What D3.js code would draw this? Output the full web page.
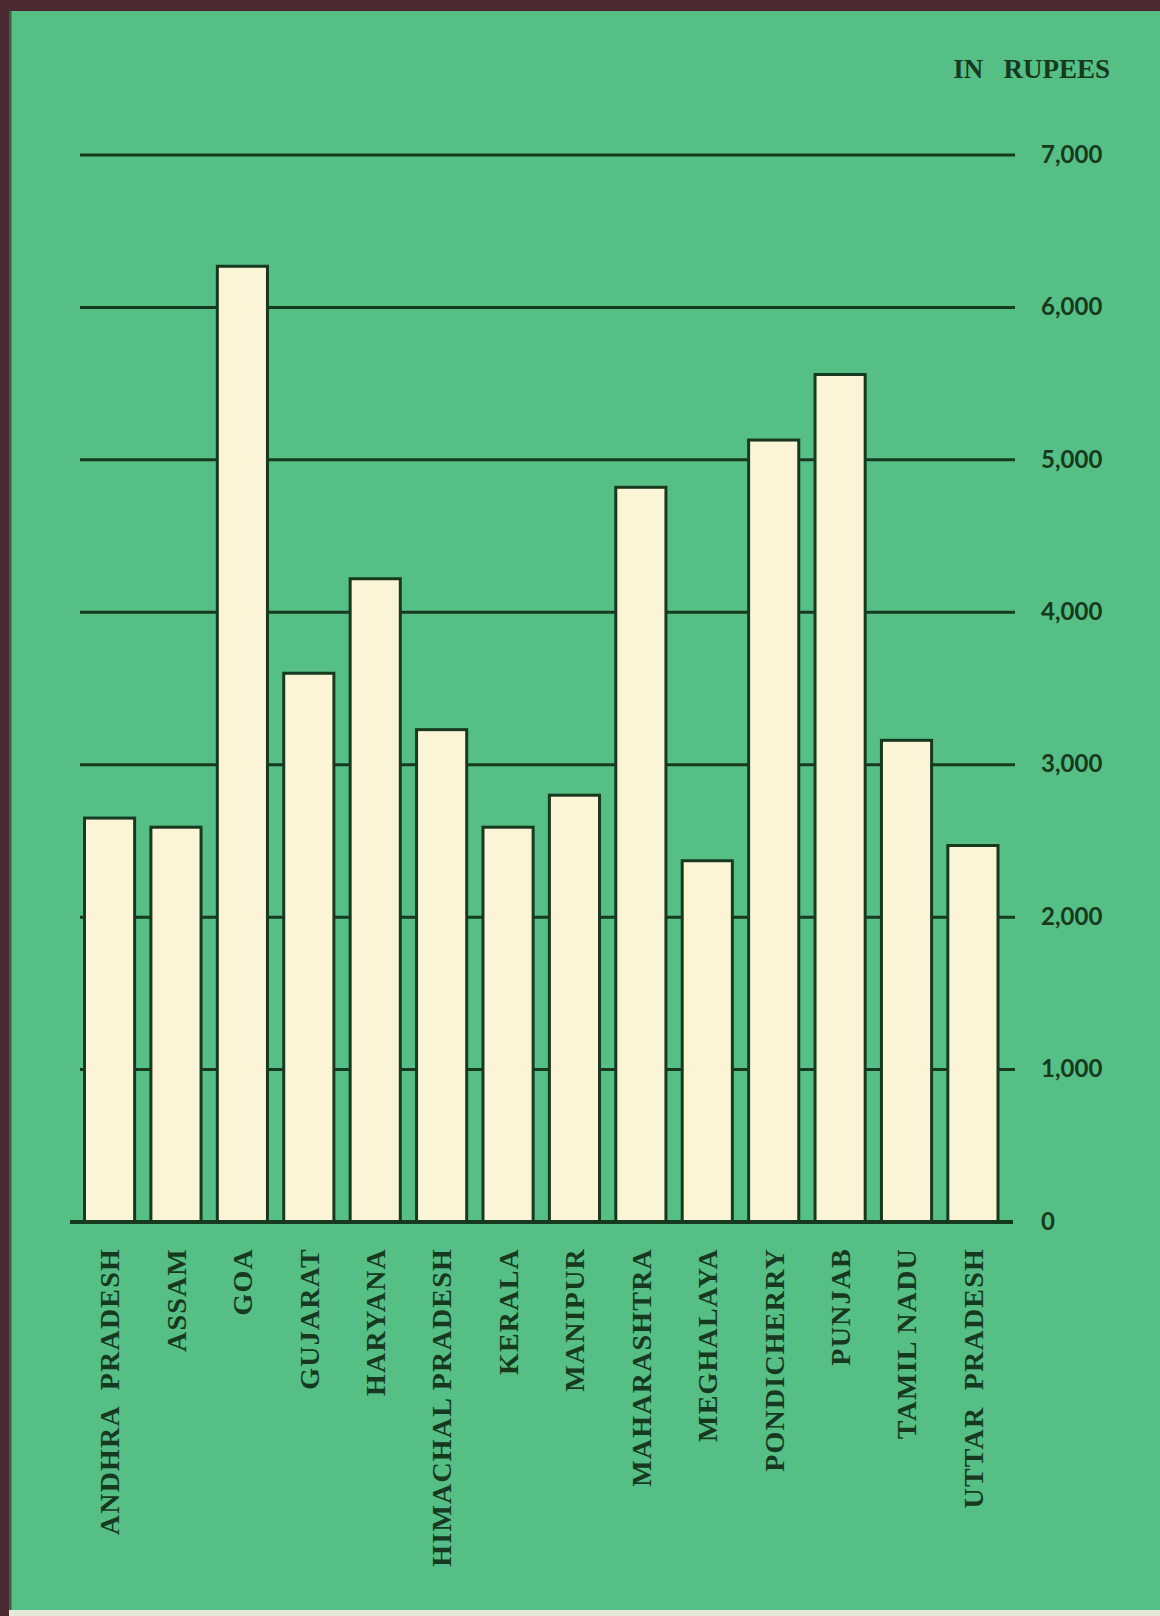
<!DOCTYPE html>
<html><head><meta charset="utf-8">
<script src="https://cdn.jsdelivr.net/npm/d3@7"></script>
<style>
html,body{margin:0;padding:0;background:#55bf86;}
svg{display:block;}
</style></head>
<body>
<svg id="chart" width="1160" height="1616"></svg>
<script>
const states = ["ANDHRA  PRADESH","ASSAM","GOA","GUJARAT","HARYANA","HIMACHAL PRADESH","KERALA","MANIPUR","MAHARASHTRA","MEGHALAYA","PONDICHERRY","PUNJAB","TAMIL NADU","UTTAR  PRADESH"];
const income = [2650,2590,6270,3600,4220,3230,2590,2800,4820,2370,5130,5560,3160,2470];
const tickValues = [0,1000,2000,3000,4000,5000,6000,7000];
const unitLabel = "IN   RUPEES";

const svg = d3.select("#chart");
const W = 1160, H = 1616;
const green = "#55bf86", dark = "#17391f", cream = "#fcf4d6", maroon = "#4b2930";

svg.append("rect").attr("width", W).attr("height", H).attr("fill", green);
// frame
svg.append("rect").attr("x",0).attr("y",0).attr("width",W).attr("height",11).attr("fill",maroon);
svg.append("rect").attr("x",0).attr("y",0).attr("width",9).attr("height",H).attr("fill",maroon);
svg.append("rect").attr("x",9).attr("y",11).attr("width",2.5).attr("height",H-11).attr("fill","#2b3a2a").attr("opacity",0.7);
svg.append("rect").attr("x",9).attr("y",1610).attr("width",W).attr("height",6).attr("fill","#e6e8d8");

const x = d3.scaleBand().domain(states).range([84.5, 998]).paddingInner(0.245).paddingOuter(0);
const y = d3.scaleLinear().domain([0, 7000]).range([1222, 155]);

// gridlines
svg.append("g").selectAll("line").data(tickValues.filter(d => d > 0)).join("line")
  .attr("x1", 80).attr("x2", 1015)
  .attr("y1", d => y(d)).attr("y2", d => y(d))
  .attr("stroke", dark).attr("stroke-width", 3);

// right axis labels
const yAxis = d3.axisRight(y).tickValues(tickValues).tickSize(0).tickPadding(0)
  .tickFormat(d3.format(","));
const ga = svg.append("g").attr("transform", "translate(1041,0)").call(yAxis);
ga.select(".domain").remove();
ga.selectAll("text").attr("font-family", "Lato, 'Open Sans', sans-serif")
  .attr("font-weight", "bold").attr("font-size", 24).attr("fill", dark)
  .attr("dy", "0.3em");

// bars
svg.append("g").selectAll("rect").data(income).join("rect")
  .attr("x", (d, i) => x(states[i]))
  .attr("y", d => y(d))
  .attr("width", x.bandwidth())
  .attr("height", d => y(0) - y(d))
  .attr("fill", cream).attr("stroke", dark).attr("stroke-width", 3);

// baseline
svg.append("line").attr("x1", 70).attr("x2", 1013).attr("y1", y(0)).attr("y2", y(0))
  .attr("stroke", dark).attr("stroke-width", 4);

// category labels
const xAxis = d3.axisBottom(x).tickSize(0).tickPadding(0);
const gx = svg.append("g").attr("transform", `translate(0,${y(0)})`).call(xAxis);
gx.select(".domain").remove();
gx.selectAll("text")
  .attr("font-family", "'Liberation Serif', 'Times New Roman', serif")
  .attr("font-weight", "bold").attr("font-size", 28).attr("fill", dark)
  .attr("letter-spacing", 1.2)
  .attr("transform", "rotate(-90)")
  .attr("text-anchor", "end")
  .attr("x", -26).attr("y", 0).attr("dy", "0.35em")
  .style("white-space", "pre");

// unit label
svg.append("text").attr("x", 1110).attr("y", 78).attr("text-anchor", "end")
  .attr("font-family", "'Liberation Serif', 'Times New Roman', serif")
  .attr("font-weight", "bold").attr("font-size", 27).attr("fill", dark)
  .style("white-space", "pre")
  .text(unitLabel);
</script>
</body></html>
